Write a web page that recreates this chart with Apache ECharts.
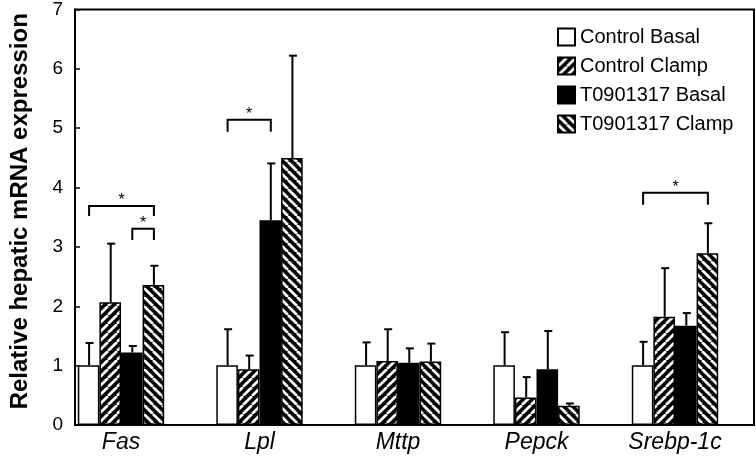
<!DOCTYPE html>
<html><head><meta charset="utf-8">
<script src="https://cdn.jsdelivr.net/npm/echarts@6/dist/echarts.min.js"></script>
<style>html,body{margin:0;padding:0;background:#fff}#c{width:756px;height:458px}</style>
</head><body><div id="c"></div>
<script>
// ---- data ----
const categories = ['Fas', 'Lpl', 'Mttp', 'Pepck', 'Srebp-1c'];
const seriesNames = ['Control Basal', 'Control Clamp', 'T0901317 Basal', 'T0901317 Clamp'];
const controlBasal     = [1.00, 1.00, 1.00, 1.00, 1.00];
const controlBasalErr  = [0.37, 0.60, 0.38, 0.55, 0.39];
const controlClamp     = [2.05, 0.93, 1.07, 0.46, 1.81];
const controlClampErr  = [0.98, 0.23, 0.53, 0.34, 0.81];
const t09Basal         = [1.21, 3.42, 1.04, 0.93, 1.66];
const t09BasalErr      = [0.11, 0.95, 0.24, 0.64, 0.21];
const t09Clamp         = [2.34, 4.46, 1.06, 0.32, 2.87];
const t09ClampErr      = [0.32, 1.71, 0.30, 0.04, 0.50];
const yTickLabels = ['0', '1', '2', '3', '4', '5', '6', '7'];
// significance brackets
const bracketCat  = [0, 0, 1, 4];
const bracketFrom = [0, 2, 0, 0];
const bracketTo   = [3, 3, 2, 3];
const bracketTop  = [3.66, 3.28, 5.10, 3.88];
const bracketLeg  = [3.49, 3.09, 4.90, 3.68];
const bracketMark = ['*', '*', '*', '*'];

// ---- styles ----
const FONT = 'Arial, "Liberation Sans", sans-serif';
const BAR_W = 21.6;

function hatch(dir) {
  const s = 9;
  const c = document.createElement('canvas');
  c.width = s; c.height = s;
  const ctx = c.getContext('2d');
  ctx.fillStyle = '#000';
  ctx.fillRect(0, 0, s, s);
  ctx.strokeStyle = '#fff';
  ctx.lineWidth = 2.7;
  for (let k = -1; k <= 1; k++) {
    ctx.beginPath();
    if (dir > 0) { ctx.moveTo(k * s, s); ctx.lineTo(k * s + s, 0); }
    else { ctx.moveTo(k * s, 0); ctx.lineTo(k * s + s, s); }
    ctx.stroke();
  }
  return { image: c, repeat: 'repeat' };
}

const values = [controlBasal, controlClamp, t09Basal, t09Clamp];
const errs = [controlBasalErr, controlClampErr, t09BasalErr, t09ClampErr];
const fills = ['#ffffff', hatch(1), '#000000', hatch(-1)];

const barSeries = seriesNames.map((name, i) => ({
  name, type: 'bar', xAxisIndex: 1, yAxisIndex: 1,
  data: values[i], barWidth: BAR_W, barGap: '0%',
  itemStyle: { color: fills[i], borderColor: '#000', borderWidth: 1.5 },
  emphasis: { disabled: true }, z: 2
}));

const errData = [];
values.forEach((vals, s) => vals.forEach((v, c) => errData.push([c, s, v, errs[s][c]])));

const bracketData = bracketCat.map((c, i) => [c, bracketFrom[i], bracketTo[i], bracketTop[i], bracketLeg[i], bracketMark[i]]);

const errSeries = {
  type: 'custom', xAxisIndex: 1, yAxisIndex: 1, z: 3, clip: false, silent: true,
  encode: { x: 0, y: 2 },
  data: errData,
  renderItem: function (params, api) {
    const c = api.value(0), s = api.value(1), v = api.value(2), e = api.value(3);
    const p0 = api.coord([c, v]);
    const p1 = api.coord([c, v + e]);
    const x = p0[0] + (s - 1.5) * BAR_W + 0.5;
    return {
      type: 'group', children: [
        { type: 'line', shape: { x1: x, y1: p0[1], x2: x, y2: p1[1] }, style: { stroke: '#000', lineWidth: 2 } },
        { type: 'line', shape: { x1: x - 3.5, y1: p1[1], x2: x + 4.5, y2: p1[1] }, style: { stroke: '#000', lineWidth: 2 } }
      ]
    };
  }
};

const bracketSeries = {
  type: 'custom', xAxisIndex: 1, yAxisIndex: 1, z: 3, clip: false, silent: true,
  encode: { x: 0, y: 3 },
  data: bracketData,
  renderItem: function (params, api) {
    const c = api.value(0), f = api.value(1), t = api.value(2);
    const top = api.value(3), leg = api.value(4);
    const pt = api.coord([c, top]);
    const pl = api.coord([c, leg]);
    const x1 = pt[0] + (f - 1.5) * BAR_W + 0.5;
    const x2 = pt[0] + (t - 1.5) * BAR_W + 0.5;
    return {
      type: 'group', children: [
        { type: 'polyline', shape: { points: [[x1, pl[1]], [x1, pt[1]], [x2, pt[1]], [x2, pl[1]]] },
          style: { stroke: '#000', lineWidth: 2, fill: null } },
        { type: 'text', x: (x1 + x2) / 2, y: pt[1] + 3,
          style: { text: bracketData[params.dataIndex][5], fontSize: 16, fontFamily: FONT, fill: '#000',
                   align: 'center', verticalAlign: 'bottom' } }
      ]
    };
  }
};

const chart = echarts.init(document.getElementById('c'), null, { renderer: 'canvas' });
chart.setOption({
  animation: false,
  backgroundColor: '#fff',
  legend: {
    orient: 'vertical', left: 557, top: 27, padding: 0,
    itemWidth: 17, itemHeight: 17, itemGap: 9,
    icon: 'rect',
    data: seriesNames,
    textStyle: { fontSize: 20, fontFamily: FONT, color: '#000' },
    selectedMode: false
  },
  grid: [
    { left: 62, right: 2, top: 6, bottom: 33, show: true, borderColor: '#000', borderWidth: 2, backgroundColor: 'transparent' },
    { left: 51.75, right: 11.75, top: 6, bottom: 33 }
  ],
  xAxis: [
    { type: 'value', gridIndex: 0, min: 0, max: 1, axisLine: { show: true, lineStyle: { color: '#000', width: 2 } },
      axisTick: { show: false }, axisLabel: { show: false }, splitLine: { show: false } },
    { type: 'category', gridIndex: 1, data: categories, axisLine: { show: false }, axisTick: { show: false },
      axisLabel: { fontSize: 23, fontStyle: 'italic', fontFamily: FONT, color: '#000', margin: 6 } }
  ],
  yAxis: [
    { type: 'value', gridIndex: 0, min: 0, max: 7, interval: 1,
      name: 'Relative hepatic mRNA expression', nameLocation: 'middle', nameGap: 43,
      nameTextStyle: { fontSize: 24, fontWeight: 'bold', fontFamily: FONT, color: '#000', padding: [0, 0, 0, 12] },
      axisLine: { show: true, lineStyle: { color: '#000', width: 2 } },
      axisTick: { show: true, inside: true, length: 5, lineStyle: { color: '#000', width: 1.5 } },
      axisLabel: { fontSize: 19, fontFamily: FONT, color: '#000', margin: 12,
                   formatter: v => yTickLabels[Math.round(v)] },
      splitLine: { show: false } },
    { type: 'value', gridIndex: 1, min: 0, max: 7, interval: 1, show: false, splitLine: { show: false } }
  ],
  series: barSeries.concat([errSeries, bracketSeries])
});
</script></body></html>
